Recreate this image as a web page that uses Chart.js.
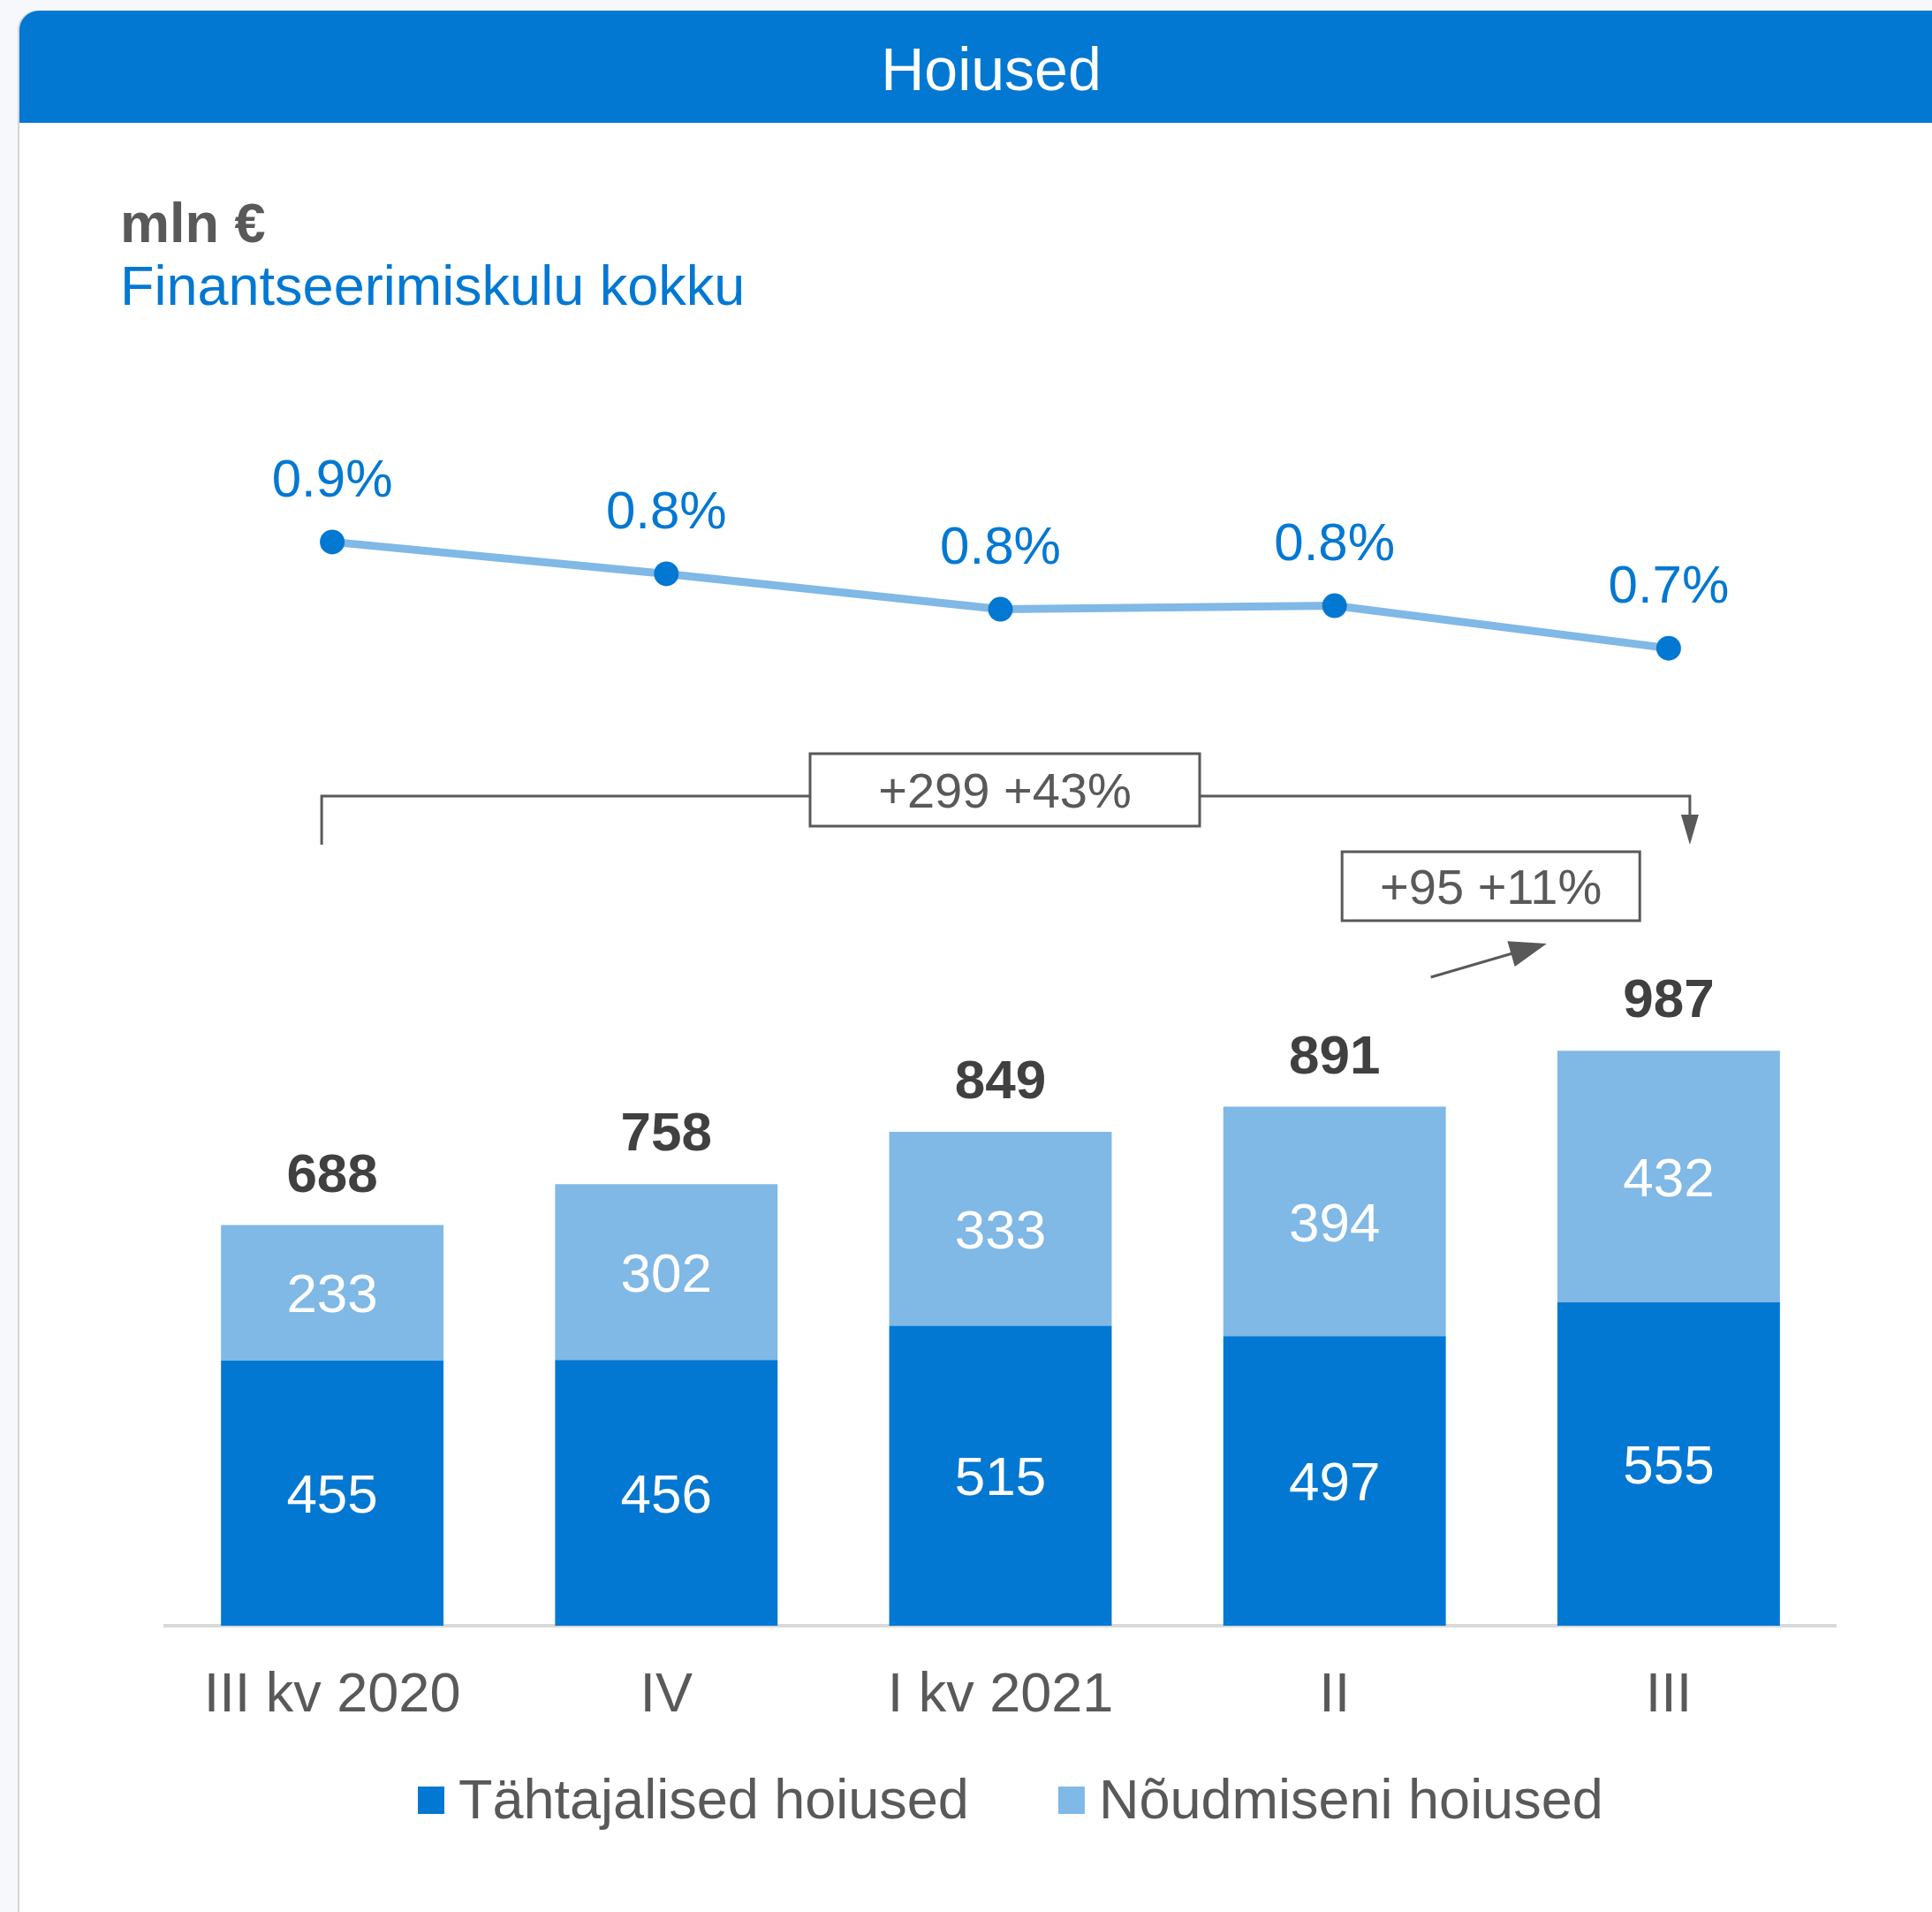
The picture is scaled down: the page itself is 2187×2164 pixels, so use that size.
<!DOCTYPE html>
<html>
<head>
<meta charset="utf-8">
<script src="https://cdn.jsdelivr.net/npm/chart.js@4.4.1/dist/chart.umd.min.js"></script>
<style>
    html, body {
        margin: 0;
        padding: 0;
        width: 2187px;
        height: 2164px;
        overflow: hidden;
        background: #f6f8fc;
        font-family: "Liberation Sans", Arial, sans-serif;
    }

    #card {
        position: absolute;
        left: 22px;
        top: 12px;
        width: 2200px;
        height: 2200px;
        background: #fff;
        box-shadow: -2px 0 0 #d6d6d6;
        border-top-left-radius: 22px;
        overflow: hidden;
    }

    #head {
        position: absolute;
        left: 0;
        top: 0;
        width: 2200px;
        height: 127px;
        background: #0378d2;
    }

    #head span {
        position: absolute;
        left: 0;
        width: 2200px;
        top: 26px;
        line-height: 80px;
        text-align: center;
        color: #fff;
        font-size: 68px;
    }

    .unit {
        position: absolute;
        left: 136px;
        line-height: 70px;
        font-size: 63px;
        white-space: nowrap;
    }

    #chart {
        position: absolute;
        left: 0;
        top: 0;
    }
</style>
</head>
<body>

<div id="card">
    <div id="head"><span>Hoiused</span></div>
</div>

<div class="unit" style="top:217px; color:#595959; font-weight:bold;">mln €</div>
<div class="unit" style="top:288px; color:#0378d2;">Finantseerimiskulu kokku</div>

<canvas id="chart" width="2187" height="2164"></canvas>

<script>
// ---------------- DATA ----------------
const categories = ["III kv 2020", "IV", "I kv 2021", "II", "III"];
const termDeposits = [455, 456, 515, 497, 555];
const demandDeposits = [233, 302, 333, 394, 432];
const totalDeposits = [688, 758, 849, 891, 987];
const fundingCost = [0.88, 0.835, 0.785, 0.79, 0.73];
const changeLabels = ["+299 +43%", "+95 +11%"];

const DARK = "#0378d2";
const LIGHT = "#80b8e6";
const GREY = "#595959";
const FONT = '"Liberation Sans", Arial, sans-serif';

Chart.defaults.font.family = FONT;

// text centred on its cap height
function centerText(ctx, text, x, cy, size) {
    ctx.fillText(text, x, cy + size * 0.358);
}

function arrowHead(ctx, fx, fy, tx, ty, len, half) {
    const a = Math.atan2(ty - fy, tx - fx);
    const bx = tx - len * Math.cos(a);
    const by = ty - len * Math.sin(a);

    ctx.beginPath();
    ctx.moveTo(tx, ty);
    ctx.lineTo(bx + half * Math.sin(a), by - half * Math.cos(a));
    ctx.lineTo(bx - half * Math.sin(a), by + half * Math.cos(a));
    ctx.closePath();
    ctx.fill();
}

function noteBox(ctx, cx, cy, w, h, text) {
    ctx.fillStyle = "#fff";
    ctx.fillRect(cx - w / 2, cy - h / 2, w, h);
    ctx.strokeRect(cx - w / 2, cy - h / 2, w, h);
    ctx.fillStyle = GREY;
    ctx.font = `56px ${FONT}`;
    ctx.textAlign = "center";
    centerText(ctx, text, cx, cy, 56);
}

// ---------------- PLUGINS ----------------
const valueLabels = {
    id: "valueLabels",
    afterDatasetsDraw(chart) {
        const ctx = chart.ctx;
        ctx.save();
        ctx.textAlign = "center";
        ctx.textBaseline = "alphabetic";

        // stacked segment values
        [1, 2].forEach(di => {
            ctx.fillStyle = "#fff";
            ctx.font = `62px ${FONT}`;
            chart.getDatasetMeta(di).data.forEach((bar, i) => {
                centerText(ctx, String(chart.data.datasets[di].data[i]), bar.x, (bar.y + bar.base) / 2, 62);
            });
        });

        // totals above bars
        ctx.fillStyle = "#404040";
        ctx.font = `bold 62px ${FONT}`;
        chart.getDatasetMeta(2).data.forEach((bar, i) => {
            centerText(ctx, String(totalDeposits[i]), bar.x, bar.y - 60, 62);
        });

        // funding cost above points
        ctx.fillStyle = DARK;
        ctx.font = `60px ${FONT}`;
        chart.getDatasetMeta(0).data.forEach((pt, i) => {
            centerText(ctx, fundingCost[i].toFixed(1) + "%", pt.x, pt.y - 73, 60);
        });

        ctx.restore();
    }
};

const changeNotes = {
    id: "changeNotes",
    afterDatasetsDraw(chart) {
        const ctx = chart.ctx;
        const xs = chart.scales.x;
        const x0 = xs.getPixelForValue(0);
        const x2 = xs.getPixelForValue(2);
        const x3 = xs.getPixelForValue(3);
        const x4 = xs.getPixelForValue(4);

        ctx.save();
        ctx.strokeStyle = GREY;
        ctx.fillStyle = GREY;
        ctx.lineWidth = 3;

        // year-on-year bracket
        ctx.beginPath();
        ctx.moveTo(x0 - 12, 956);
        ctx.lineTo(x0 - 12, 901);
        ctx.lineTo(x4 + 24, 901);
        ctx.lineTo(x4 + 24, 930);
        ctx.stroke();
        arrowHead(ctx, x4 + 24, 901, x4 + 24, 956, 34, 10);

        noteBox(ctx, x2 + 5, 894, 441, 82, changeLabels[0]);

        // quarter-on-quarter arrow
        ctx.strokeStyle = GREY;
        ctx.fillStyle = GREY;
        ctx.beginPath();
        ctx.moveTo(x3 + 109, 1106);
        ctx.lineTo(x4 - 170, 1077);
        ctx.stroke();
        arrowHead(ctx, x3 + 109, 1106, x4 - 138, 1068, 42, 15);

        noteBox(ctx, x3 + 177, 1003, 337, 78, changeLabels[1]);

        ctx.restore();
    }
};

const legendRow = {
    id: "legendRow",
    afterDraw(chart) {
        const ctx = chart.ctx;
        ctx.save();
        ctx.font = `63px ${FONT}`;
        ctx.textAlign = "left";
        ctx.textBaseline = "alphabetic";

        let lx = 473;
        [1, 2].forEach(di => {
            const ds = chart.data.datasets[di];
            ctx.fillStyle = ds.backgroundColor;
            ctx.fillRect(lx, 2022, 30, 31);
            ctx.fillStyle = GREY;
            ctx.fillText(ds.label, lx + 46, 2058);
            lx += 46 + ctx.measureText(ds.label).width + 101;
        });

        ctx.restore();
    }
};

// ---------------- CHART ----------------
const chart = new Chart(document.getElementById("chart"), {
    type: "bar",

    data: {
        labels: categories,
        datasets: [
            {
                type: "line",
                label: "Finantseerimiskulu kokku",
                data: fundingCost,
                yAxisID: "y2",
                borderColor: LIGHT,
                borderWidth: 9,
                pointRadius: 14,
                pointHoverRadius: 14,
                pointBackgroundColor: DARK,
                pointBorderColor: DARK,
                pointBorderWidth: 0,
                tension: 0,
                clip: false
            },
            {
                label: "Tähtajalised hoiused",
                data: termDeposits,
                backgroundColor: DARK,
                yAxisID: "y"
            },
            {
                label: "Nõudmiseni hoiused",
                data: demandDeposits,
                backgroundColor: LIGHT,
                yAxisID: "y"
            }
        ]
    },

    options: {
        responsive: false,
        animation: false,
        layout: {
            padding: { left: 187, right: 109, top: 437, bottom: 124 }
        },
        datasets: {
            bar: {
                categoryPercentage: 1,
                barPercentage: 0.666,
                borderWidth: 0
            }
        },
        plugins: {
            legend: { display: false },
            tooltip: { enabled: false }
        },
        scales: {
            x: {
                stacked: true,
                grid: { display: false, drawTicks: false },
                border: { display: true, color: "#d9d9d9", width: 4 },
                ticks: {
                    color: GREY,
                    font: { size: 63 },
                    padding: 42,
                    maxRotation: 0,
                    autoSkip: false
                },
                afterFit: (scale) => {
                    scale.height = 200;
                }
            },
            y: {
                stacked: true,
                display: false,
                min: 0,
                max: 2128
            },
            y2: {
                display: false,
                min: -0.65,
                max: 1.1
            }
        }
    },

    plugins: [valueLabels, changeNotes, legendRow]
});
</script>
</body>
</html>
